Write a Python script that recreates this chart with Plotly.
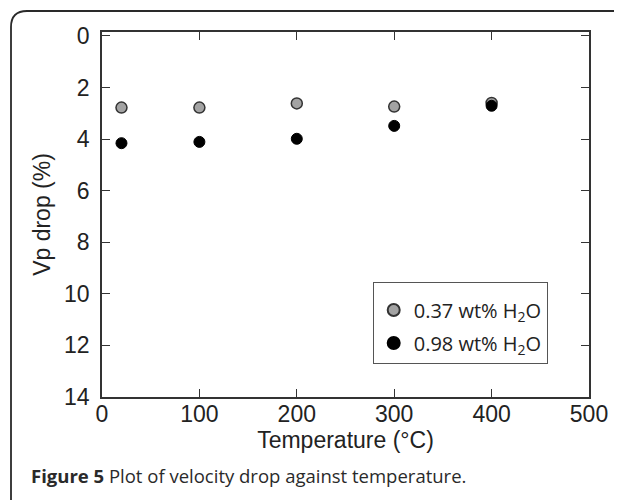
import plotly.graph_objects as go

temperature = [20, 100, 200, 300, 400]
drop_037 = [2.78, 2.78, 2.62, 2.74, 2.60]
drop_098 = [4.16, 4.11, 3.99, 3.49, 2.71]
series_names = ["0.37 wt% H<sub>2</sub>O", "0.98 wt% H<sub>2</sub>O"]
x_ticks = [0, 100, 200, 300, 400, 500]
y_ticks = [0, 2, 4, 6, 8, 10, 12, 14]
caption_bold = "Figure 5"
caption_text = " Plot of velocity drop against temperature."

# page body has an 8px margin: figure drawn 8px in from the window corner
OFF = 8
W, H = 622 - OFF, 500 - OFF
L, T = 102 - OFF, 32 - OFF
R = W - (589 - OFF)
B = H - (397 - OFF)
pw, ph = W - L - R, H - T - B

def px2paper(sx, sy):
    # screen coordinates -> paper coordinates
    fx, fy = sx - OFF, sy - OFF
    return (fx - L) / pw, (H - B - fy) / ph

AX_FONT = dict(family="Liberation Sans, Arial, sans-serif", size=23, color="#222222")

fig = go.Figure()
fig.add_trace(go.Scatter(
    x=temperature, y=drop_037, mode="markers", name=series_names[0],
    legendgroup="a",
    marker=dict(size=11, color="#a3a3a3", line=dict(color="#333333", width=1.5)),
))
fig.add_trace(go.Scatter(
    x=temperature, y=drop_098, mode="markers", name=series_names[1],
    legendgroup="b",
    marker=dict(size=11, color="#000000", line=dict(color="#000000", width=1)),
))

axis_common = dict(
    showline=True, linecolor="#333333", linewidth=1.5, mirror="ticks",
    ticks="inside", ticklen=8, tickwidth=1.2, tickcolor="#333333",
    showgrid=False, zeroline=False, tickfont=AX_FONT,
)
fig.update_xaxes(
    range=[0, 500], tickvals=x_ticks, ticktext=[str(v) for v in x_ticks],
    ticklabelstandoff=-4,
    title=dict(text="Temperature (°C)", standoff=2, font=AX_FONT),
    **axis_common,
)
fig.update_yaxes(
    range=[14, -0.15], tickvals=y_ticks, ticktext=[str(v) for v in y_ticks],
    ticklabelstandoff=6,
    title=dict(text="Vp drop (%)", standoff=7, font=AX_FONT),
    **axis_common,
)

lx, ly = px2paper(372.7, 281.7)
fig.update_layout(
    width=W, height=H,
    margin=dict(l=L, r=R, t=T, b=B, autoexpand=False),
    paper_bgcolor="white", plot_bgcolor="white",
    legend=dict(
        x=lx, y=ly, xanchor="left", yanchor="top",
        bordercolor="#555555", borderwidth=1, bgcolor="white",
        font=dict(family="Open Sans, sans-serif", size=20, color="#222222"),
        title=dict(text=" ", font=dict(size=6)),
        tracegroupgap=4, itemsizing="constant",
    ),
    showlegend=True,
)

def P(sx, sy):
    x, y = px2paper(sx, sy)
    return f"{x:.5f},{y:.5f}"

path = f"M {P(11, 530)} L {P(11, 27)} Q {P(11, 11)} {P(27, 11)} L {P(660, 11)}"
fig.add_shape(type="path", path=path, xref="paper", yref="paper",
              line=dict(color="#2a2a2a", width=1.8), layer="above")

cx, cy = px2paper(29, 476)
fig.add_annotation(
    x=cx, y=cy, xref="paper", yref="paper", xanchor="left", yanchor="middle",
    showarrow=False,
    text=f"<b>{caption_bold}</b>{caption_text}",
    font=dict(family="Open Sans, sans-serif", size=18.5, color="#2a2a2a"),
)

fig.write_html("out.html")
